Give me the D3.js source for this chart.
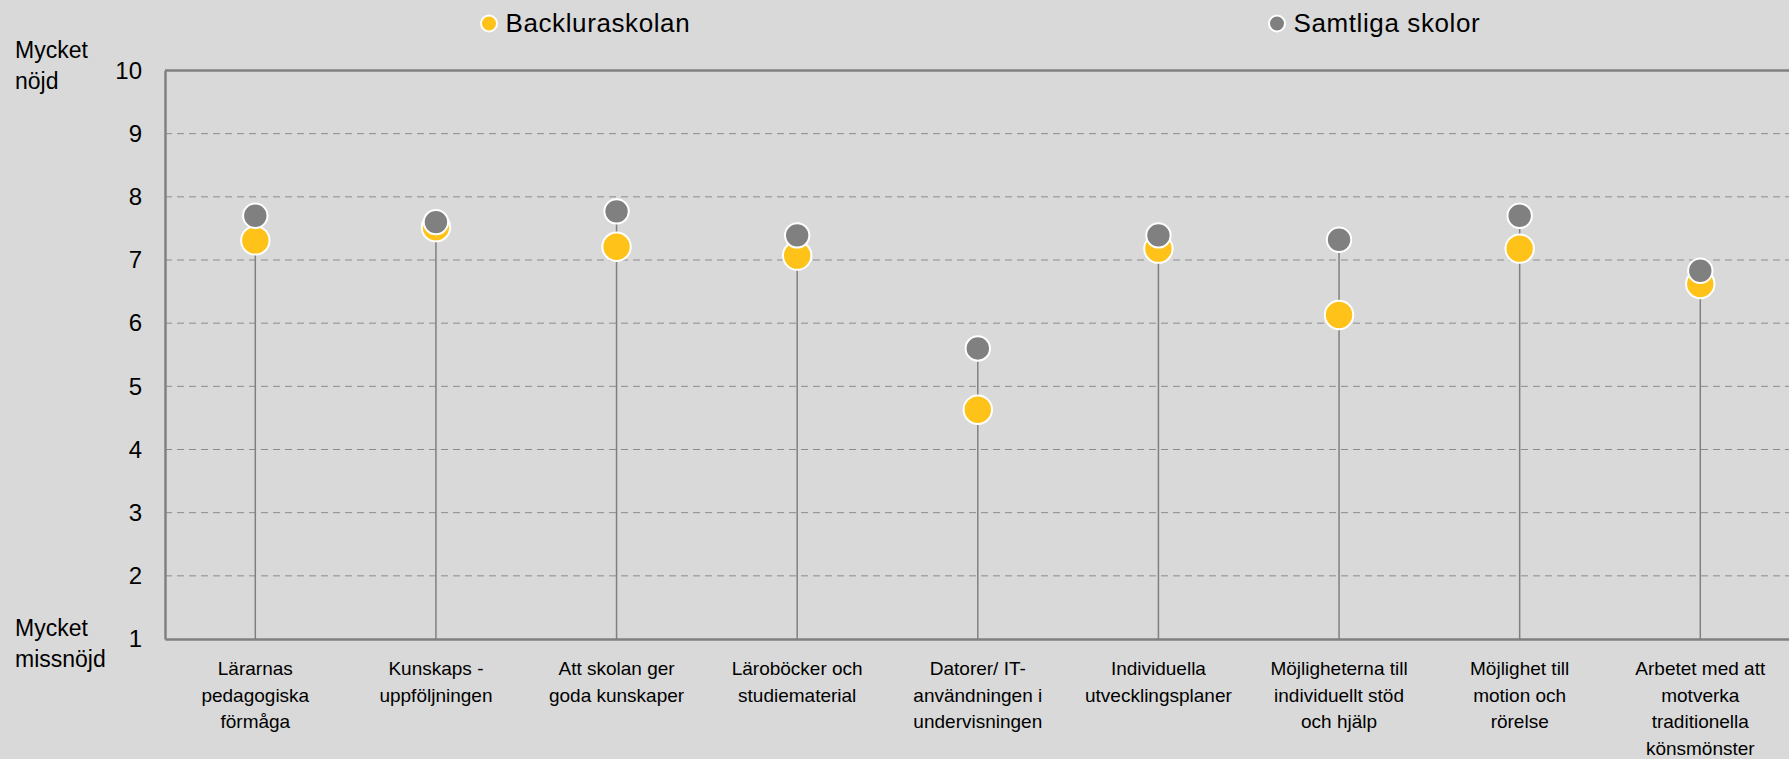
<!DOCTYPE html>
<html>
<head>
<meta charset="utf-8">
<script src="https://cdn.jsdelivr.net/npm/d3@7"></script>
<style>
  html, body { margin: 0; padding: 0; background: #d9d9d9; overflow: hidden; }
  svg { display: block; font-family: "Liberation Sans", Arial, sans-serif; }
</style>
</head>
<body>
<svg id="chart" width="1789" height="759"></svg>
<script>
const categories = [
  ["Lärarnas", "pedagogiska", "förmåga"],
  ["Kunskaps -", "uppföljningen"],
  ["Att skolan ger", "goda kunskaper"],
  ["Läroböcker och", "studiematerial"],
  ["Datorer/ IT-", "användningen i", "undervisningen"],
  ["Individuella", "utvecklingsplaner"],
  ["Möjligheterna till", "individuellt stöd", "och hjälp"],
  ["Möjlighet till", "motion och", "rörelse"],
  ["Arbetet med att", "motverka", "traditionella", "könsmönster"]
];
const backluraskolan = [7.31, 7.52, 7.21, 7.07, 4.63, 7.18, 6.13, 7.18, 6.62];
const samtligaSkolor = [7.70, 7.60, 7.77, 7.39, 5.60, 7.39, 7.32, 7.70, 6.83];
const yTicks = [1, 2, 3, 4, 5, 6, 7, 8, 9, 10];
const seriesNames = ["Backluraskolan", "Samtliga skolor"];

(function () {
const svg = d3.select("#chart");
const pLeft = 165, pRight = 1790.6, pTop = 70.5, pBottom = 639;
const x = d3.scaleBand().domain(d3.range(categories.length)).range([pLeft, pRight]).padding(0);
const y = d3.scaleLinear().domain([1, 10]).range([pBottom, pTop]);
const yellow = "#ffc218", grey = "#808080";
const cx = i => x(i) + x.bandwidth() / 2;

// gridlines
svg.append("g").selectAll("line").data(yTicks.filter(t => t > 1 && t < 10)).join("line")
  .attr("x1", pLeft).attr("x2", pRight)
  .attr("y1", d => y(d)).attr("y2", d => y(d))
  .attr("stroke", "#8c8c8c").attr("stroke-width", 1).attr("stroke-dasharray", "7,5");

// top frame line
svg.append("line").attr("x1", pLeft).attr("x2", pRight).attr("y1", y(10)).attr("y2", y(10))
  .attr("stroke", grey).attr("stroke-width", 2.5);

// y axis
const yAxis = d3.axisLeft(y).tickValues(yTicks).tickSize(0).tickPadding(23).tickFormat(d3.format("d"));
const ga = svg.append("g").attr("transform", `translate(${pLeft},0)`).call(yAxis);
ga.select(".domain").attr("stroke", grey).attr("stroke-width", 2.5);
ga.selectAll("text").attr("font-size", 24).attr("fill", "#000").attr("font-family", "Liberation Sans, Arial, sans-serif");

// stems
svg.append("g").selectAll("line").data(samtligaSkolor).join("line")
  .attr("x1", (d, i) => cx(i)).attr("x2", (d, i) => cx(i))
  .attr("y1", y(1)).attr("y2", (d, i) => y(Math.max(d, backluraskolan[i])))
  .attr("stroke", grey).attr("stroke-width", 1.5);

// x axis
const xAxis = d3.axisBottom(x).tickSize(0).tickFormat("");
const gx = svg.append("g").attr("transform", `translate(0,${pBottom})`).call(xAxis);
gx.select(".domain").attr("stroke", grey).attr("stroke-width", 2.5);

// category labels
const lab = svg.append("g").selectAll("text").data(categories).join("text")
  .attr("text-anchor", "middle").attr("font-size", 19).attr("fill", "#000")
  .attr("x", (d, i) => cx(i)).attr("y", pBottom + 36);
lab.each(function (lines, i) {
  d3.select(this).selectAll("tspan").data(lines).join("tspan")
    .attr("x", cx(i))
    .attr("dy", (d, j) => j === 0 ? 0 : 26.5)
    .text(d => d);
});

// points
svg.append("g").selectAll("circle").data(backluraskolan).join("circle")
  .attr("cx", (d, i) => cx(i)).attr("cy", d => y(d))
  .attr("r", 14.2).attr("fill", yellow).attr("stroke", "#fff").attr("stroke-width", 2);
svg.append("g").selectAll("circle").data(samtligaSkolor).join("circle")
  .attr("cx", (d, i) => cx(i)).attr("cy", d => y(d))
  .attr("r", 12.2).attr("fill", grey).attr("stroke", "#fff").attr("stroke-width", 2);

// side labels
const side = [
  { lines: ["Mycket", "nöjd"], y: 58 },
  { lines: ["Mycket", "missnöjd"], y: 636 }
];
side.forEach(s => {
  const t = svg.append("text").attr("x", 15).attr("y", s.y).attr("font-size", 23).attr("fill", "#000");
  s.lines.forEach((l, j) => t.append("tspan").attr("x", 15).attr("dy", j === 0 ? 0 : 31).text(l));
});

// legend
const legendX = [489, 1277];
const legendColors = [yellow, grey];
seriesNames.forEach((n, i) => {
  svg.append("circle").attr("cx", legendX[i]).attr("cy", 23.5).attr("r", 8)
    .attr("fill", legendColors[i]).attr("stroke", "#fff").attr("stroke-width", 2);
  svg.append("text").attr("x", legendX[i] + 16.5).attr("y", 32)
    .attr("font-size", 26).attr("letter-spacing", 0.6).attr("fill", "#000").text(n);
});
})();
</script>
</body>
</html>
